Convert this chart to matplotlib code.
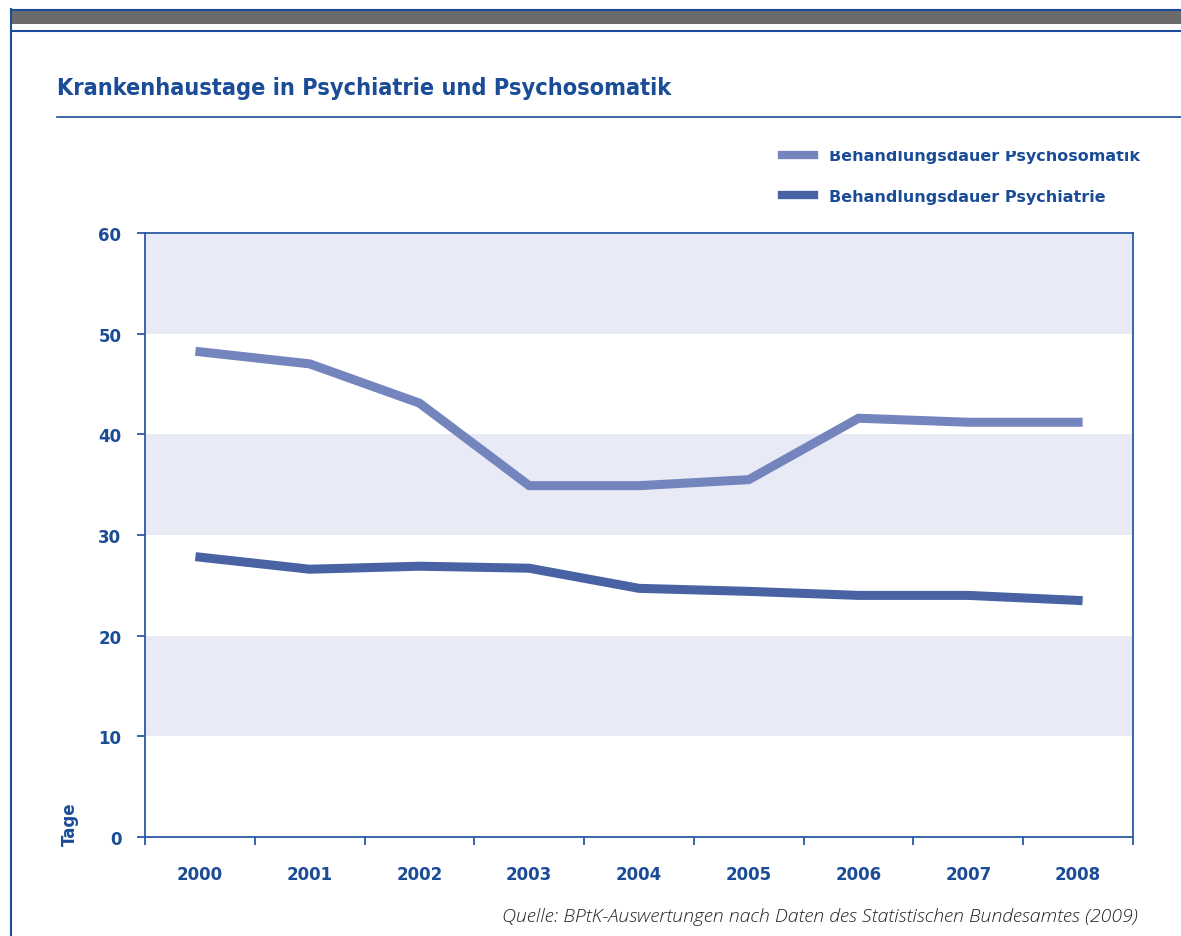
import matplotlib.pyplot as plt
from matplotlib.patches import Rectangle
from matplotlib.lines import Line2D
from matplotlib.transforms import Bbox

# Data
years = ["2000", "2001", "2002", "2003", "2004", "2005", "2006", "2007", "2008"]
psychosomatik = [48.2, 47.0, 43.1, 34.9, 34.9, 35.5, 41.6, 41.2, 41.2]
psychiatrie = [27.8, 26.6, 26.9, 26.7, 24.7, 24.4, 24.0, 24.0, 23.5]
bands = [(10, 20), (30, 40), (50, 60)]
y_ticks = [0, 10, 20, 30, 40, 50, 60]

BLUE = "#1B4C97"
AXBLUE = "#2A5AA5"
C_SOMA = "#7484BC"
C_PSY = "#4862A3"
BAND = "#E8EAF6"
W, H = 1181, 937

fig = plt.figure(figsize=(W / 100, H / 100), dpi=100)

def fx(px):
    return px / W

def fy(py):
    return 1 - py / H

# page frame: grey bar, blue rules, left border
fig.patches.append(Rectangle((fx(12), fy(25)), 1 - fx(12), fy(12) - fy(25),
                             transform=fig.transFigure, color="#6B6B6B", lw=0))
fig.lines.append(Line2D([fx(11), 1], [fy(11), fy(11)], transform=fig.transFigure, color=BLUE, lw=1.5))
fig.lines.append(Line2D([fx(11), 1], [fy(32), fy(32)], transform=fig.transFigure, color=BLUE, lw=1.5))
fig.lines.append(Line2D([fx(11), fx(11)], [fy(10), 0], transform=fig.transFigure, color=BLUE, lw=1.5))
fig.lines.append(Line2D([fx(57), 1], [fy(118), fy(118)], transform=fig.transFigure, color=BLUE, lw=1.2))

fig.text(fx(57), fy(88), "Krankenhaustage in Psychiatrie und Psychosomatik",
         family=["DejaVu Sans"], stretch="condensed", weight="bold",
         fontsize=16.8, color=BLUE, va="center", ha="left")

ax = fig.add_axes([fx(145), fy(838), fx(1133) - fx(145), fy(234) - fy(838)])
x = list(range(len(years)))
for lo, hi in bands:
    ax.axhspan(lo, hi, color=BAND, lw=0, zorder=0)

l1, = ax.plot(x, psychosomatik, color=C_SOMA, lw=6.5, solid_joinstyle="miter",
              label="Behandlungsdauer Psychosomatik", zorder=3)
l2, = ax.plot(x, psychiatrie, color=C_PSY, lw=6.5, solid_joinstyle="miter",
              label="Behandlungsdauer Psychiatrie", zorder=3)

ax.set_xlim(-0.5, len(years) - 0.5)
ax.set_ylim(0, 60)
ax.set_yticks(y_ticks)
ax.set_yticklabels([str(v) for v in y_ticks])
ax.set_xticks(x)
ax.set_xticklabels(years)
ax.set_xticks([i - 0.5 for i in range(len(years) + 1)], minor=True)

for s in ax.spines.values():
    s.set_color(AXBLUE)
    s.set_linewidth(1.3)

tick_font = dict(family="DejaVu Sans", weight="bold", size=12)
ax.tick_params(axis="x", which="major", length=0, pad=20, colors=BLUE)
ax.tick_params(axis="x", which="minor", length=6, width=1.3, color=AXBLUE, direction="out")
ax.tick_params(axis="y", length=6, width=1.3, color=AXBLUE, pad=11, labelcolor=BLUE)
for lab in ax.get_xticklabels() + ax.get_yticklabels():
    lab.set_fontproperties(tick_font)

ax.text(fx(70), fy(824), "Tage", transform=fig.transFigure, rotation=90,
        ha="center", va="center", color=BLUE, fontsize=12, weight="bold")

leg = fig.legend(handles=[l1, l2], loc="upper left", bbox_to_anchor=(fx(768), fy(135)),
                 frameon=False, handlelength=2.0, handletextpad=0.9, labelspacing=1.6,
                 prop=dict(family="DejaVu Sans", weight="bold", size=11.5))
for t in leg.get_texts():
    t.set_color(BLUE)
for h in leg.legend_handles:
    h.set_linewidth(6)
# top entry is cut off at the top in the original
leg.get_texts()[0].set_clip_box(Bbox([[0, 0], [W, H - 152]]))
leg.get_texts()[0].set_clip_on(True)

fig.text(fx(1138), fy(917), "Quelle: BPtK-Auswertungen nach Daten des Statistischen Bundesamtes (2009)",
         family="Open Sans", style="italic", weight="light", fontsize=14, color="#222222",
         ha="right", va="center")

fig.savefig("out.png", dpi=100)
